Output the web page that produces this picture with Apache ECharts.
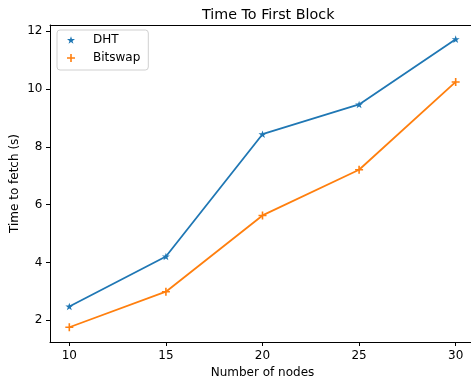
<!DOCTYPE html>
<html>
<head>
<meta charset="utf-8">
<script src="https://cdn.jsdelivr.net/npm/echarts@6/dist/echarts.min.js"></script>
<style>html,body{margin:0;padding:0;background:#fff}#c{width:471px;height:384px}</style>
</head>
<body>
<div id="c"></div>
<script>
const nodes = [10, 15, 20, 25, 30];
const dht = [2.48, 4.21, 8.44, 9.47, 11.73];
const bitswap = [1.76, 2.99, 5.63, 7.21, 10.25];
const xTicks = [10, 15, 20, 25, 30];
const yTicks = [2, 4, 6, 8, 10, 12];

const starPath = 'path://M100,0L122.45,69.1L195.1,69.1L136.3,111.8L158.8,180.9L100,138.2L41.2,180.9L63.7,111.8L4.9,69.1L77.55,69.1Z';
const plusPath = 'path://M40,0H60V40H100V60H60V100H40V60H0V40H40Z';
const font = 'DejaVu Sans';

const chart = echarts.init(document.getElementById('c'), null, {renderer: 'canvas'});
chart.setOption({
  animation: false,
  backgroundColor: '#fff',
  title: {
    text: 'Time To First Block',
    left: 197, top: 3,
    textStyle: {fontFamily: font, fontSize: 14.3, fontWeight: 'normal', color: '#000'}
  },
  legend: {
    orient: 'vertical',
    left: 57, top: 30,
    padding: [3, 8, 5, 10],
    itemGap: 4,
    itemWidth: 8, itemHeight: 8,
    borderColor: '#d0d0d0', borderWidth: 1, borderRadius: 3,
    textStyle: {fontFamily: font, fontSize: 12, color: '#000', lineHeight: 14, padding: [0, 0, 0, 13]},
    data: [{name: 'DHT', icon: starPath}, {name: 'Bitswap', icon: plusPath}]
  },
  grid: {left: 50, top: 25, width: 425, height: 317, outerBoundsMode: 'none', containLabel: false},
  xAxis: [{
    type: 'value', min: 9, max: 31, position: 'bottom',
    name: 'Number of nodes', nameLocation: 'middle', nameGap: 24.5, nameMoveOverlap: false,
    nameTextStyle: {fontFamily: font, fontSize: 12, color: '#000'},
    axisLine: {show: true, onZero: false, lineStyle: {color: '#000', width: 1}},
    axisTick: {show: true, length: 4, lineStyle: {color: '#000'}, customValues: xTicks},
    axisLabel: {fontFamily: font, fontSize: 12, color: '#000', margin: 8, customValues: xTicks},
    splitLine: {show: false}
  }, {
    type: 'value', min: 9, max: 31, position: 'top',
    axisLine: {show: true, onZero: false, lineStyle: {color: '#000', width: 1}},
    axisTick: {show: false}, axisLabel: {show: false}, splitLine: {show: false}
  }],
  yAxis: {
    type: 'value', min: 1.25, max: 12.22,
    name: 'Time to fetch (s)', nameLocation: 'middle', nameGap: 29, nameRotate: 90, nameMoveOverlap: false,
    nameTextStyle: {fontFamily: font, fontSize: 12, color: '#000'},
    axisLine: {show: true, onZero: false, lineStyle: {color: '#000', width: 1}},
    axisTick: {show: true, length: 4, lineStyle: {color: '#000'}, customValues: yTicks},
    axisLabel: {fontFamily: font, fontSize: 12, color: '#000', margin: 7.5, customValues: yTicks},
    splitLine: {show: false}
  },
  series: [
    {
      name: 'DHT', type: 'line', xAxisIndex: 0,
      data: nodes.map((n, i) => [n, dht[i]]),
      symbol: starPath, symbolSize: 8, symbolKeepAspect: true,
      itemStyle: {color: '#1f77b4'},
      lineStyle: {color: '#1f77b4', width: 1.8}
    },
    {
      name: 'Bitswap', type: 'line', xAxisIndex: 0,
      data: nodes.map((n, i) => [n, bitswap[i]]),
      symbol: plusPath, symbolSize: 8,
      itemStyle: {color: '#ff7f0e'},
      lineStyle: {color: '#ff7f0e', width: 1.8}
    }
  ]
});
</script>
</body>
</html>
